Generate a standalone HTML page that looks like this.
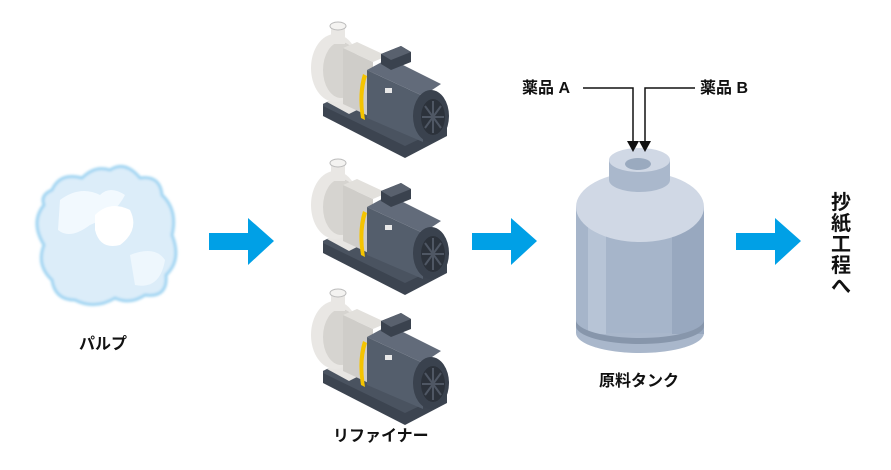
<!DOCTYPE html>
<html><head><meta charset="utf-8"><style>
html,body{margin:0;padding:0;background:#fff;}
body{width:891px;height:470px;overflow:hidden;position:relative;font-family:"Liberation Sans","Noto Sans CJK JP",sans-serif;font-weight:bold;color:#111;}
.t{position:absolute;font-size:16px;white-space:nowrap;line-height:1;}
</style></head><body>
<svg width="891" height="470" style="position:absolute;left:0;top:0">
<defs>
<filter id="bl"><feGaussianBlur stdDeviation="1.2"/></filter>
<g id="pump">
  <polygon points="18,86 60,66 142,108 142,118 100,140 18,98" fill="#3c4450"/>
  <polygon points="18,86 60,66 142,108 100,128 18,88" fill="#4a5360"/>
  <polygon points="22,84 58,66 80,78 44,96" fill="#e7e5e2"/>
  <ellipse cx="30" cy="50" rx="24" ry="34" fill="#e9e7e4"/>
  <ellipse cx="36" cy="52" rx="18" ry="28" fill="#d6d4d0"/>
  <rect x="26" y="8" width="14" height="18" fill="#e9e7e4"/>
  <ellipse cx="33" cy="8" rx="8" ry="4" fill="#f4f3f1" stroke="#bbb" stroke-width="1"/>
  <polygon points="38,30 68,44 68,100 38,86" fill="#cfcdc9"/>
  <polygon points="38,30 52,24 82,38 68,44" fill="#e2e0dc"/>
  <path d="M58,56 Q52,75 56,100 L60,102 Q56,76 62,58Z" fill="#f5c400"/>
  <polygon points="62,52 118,78 118,124 62,100" fill="#545e6c"/>
  <polygon points="62,52 84,40 136,66 118,78" fill="#626b7a"/>
  <polygon points="76,36 96,28 106,34 106,44 86,52 76,46" fill="#3a424e"/>
  <polygon points="76,36 96,28 106,34 86,42" fill="#59616e"/>
  <rect x="80" y="70" width="7" height="5" fill="#e8e8e8"/>
  <ellipse cx="126" cy="98" rx="18" ry="26" fill="#3a424e"/>
  <ellipse cx="128" cy="99" rx="12" ry="18" fill="#2c323b"/>
  <g stroke="#4f5764" stroke-width="2"><line x1="128" y1="83" x2="128" y2="115"/><line x1="117" y1="99" x2="139" y2="99"/><line x1="120" y1="88" x2="136" y2="110"/><line x1="136" y1="88" x2="120" y2="110"/></g>
</g>
<g id="arr"><polygon points="0,15 39,15 39,0 65,23 39,47 39,32 0,32" fill="#00a0e6"/></g>
</defs>
<!-- cloud -->
<path d="M52,190 Q60,172 82,178 Q95,165 110,170 Q125,160 140,178 Q160,175 162,195 Q178,210 172,235 Q182,260 166,275 Q168,298 145,295 Q130,305 115,298 Q95,310 75,300 Q55,300 52,280 Q36,265 44,245 Q30,222 44,205 Q40,195 52,190Z" fill="#dcedf9" stroke="#9fd4f2" stroke-width="3" filter="url(#bl)"/>
<path d="M60,200 Q80,185 100,195 Q110,185 125,195 Q115,215 90,225 Q70,240 58,230Z" fill="#f2f9fe"/>
<path d="M95,215 Q110,200 130,210 Q140,230 120,245 Q100,250 95,230Z" fill="#fff"/>
<path d="M130,255 Q155,245 165,260 Q160,290 135,285Z" fill="#eef7fd"/>
<use href="#arr" x="209" y="218"/>
<use href="#arr" x="472" y="218"/>
<use href="#arr" x="736" y="218"/>
<use href="#pump" x="305" y="18"/>
<use href="#pump" x="305" y="155"/>
<use href="#pump" x="305" y="285"/>
<!-- tank -->
<ellipse cx="640" cy="333" rx="64" ry="20" fill="#a9b7cb"/>
<rect x="576" y="207" width="128" height="126" fill="#a6b5ca"/>
<rect x="588" y="210" width="18" height="124" fill="#b7c4d6"/>
<rect x="672" y="210" width="32" height="124" fill="#98a8bf"/>
<path d="M576,320 A64,18 0 0 0 704,320 L704,326 A64,18 0 0 1 576,326Z" fill="#8796ab"/>
<ellipse cx="640" cy="207" rx="64" ry="35" fill="#d0d8e5"/>
<path d="M609,160 L609,180 A30.5,12 0 0 0 670,180 L670,160Z" fill="#aab8cc"/>
<ellipse cx="639.5" cy="160" rx="30.5" ry="12" fill="#d0d8e5"/>
<ellipse cx="638" cy="164" rx="13" ry="6" fill="#9aaabf"/>
<!-- lines -->
<g stroke="#111" stroke-width="1.5" fill="none">
<polyline points="583,88 633,88 633,142"/>
<polyline points="695,88 645,88 645,142"/>
</g>
<polygon points="627,141 639,141 633,152" fill="#111"/>
<polygon points="639,141 651,141 645,152" fill="#111"/>
</svg>
<div class="t" style="left:79px;top:337px;">パルプ</div>
<div class="t" style="left:333px;top:429px;">リファイナー</div>
<div class="t" style="left:599px;top:374px;">原料タンク</div>
<div class="t" style="left:522px;top:81px;">薬品 A</div>
<div class="t" style="left:700px;top:81px;">薬品 B</div>
<div class="t" style="left:831px;top:193px;font-size:20px;width:22px;white-space:normal;line-height:21px;">抄紙工程へ</div>
</body></html>
